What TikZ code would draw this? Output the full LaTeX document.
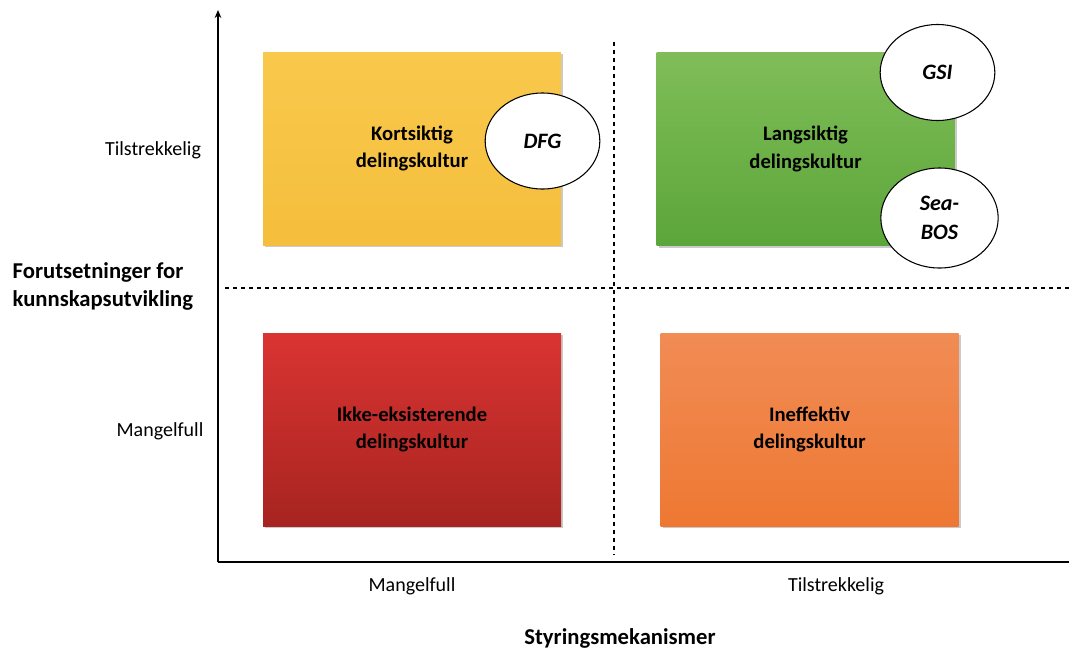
\documentclass[tikz,border=0pt]{standalone}
\usepackage{fontspec}
\setmainfont{Carlito}
\usetikzlibrary{arrows.meta,shapes.geometric,shadows}
\definecolor{ylwT}{HTML}{F9C94C}
\definecolor{ylwB}{HTML}{F5BE3C}
\definecolor{grnT}{HTML}{80BD58}
\definecolor{grnB}{HTML}{5BA63A}
\definecolor{redT}{HTML}{DA3432}
\definecolor{redB}{HTML}{A72420}
\definecolor{orgT}{HTML}{F18C55}
\definecolor{orgB}{HTML}{EE7832}
\tikzset{
  quad/.style={rectangle, minimum width=223.5pt, minimum height=144.75pt, inner sep=0pt,
    align=center, font=\fontsize{15.5}{20.5}\selectfont\bfseries,
    drop shadow={shadow xshift=1.5pt, shadow yshift=-1.5pt, opacity=0.35, fill=black!60}},
  bubble/.style={ellipse, draw=black, line width=0.8pt, fill=white, minimum width=86pt,
    minimum height=72pt, inner sep=0pt, align=center,
    font=\fontsize{16.5}{22}\selectfont\bfseries\itshape},
  axislabel/.style={font=\fontsize{15}{18}\selectfont},
  axistitle/.style={font=\fontsize{17}{21}\selectfont\bfseries},
  axisline/.style={line width=1.4pt, black},
  divider/.style={line width=1.1pt, black, dash pattern=on 3pt off 3pt}
}
\begin{document}
\begin{tikzpicture}[x=0.75pt, y=-0.75pt]
\useasboundingbox (0,0) rectangle (1069,650);
% axes
\coordinate (origin) at (218,562);
\coordinate (ytop) at (218,10);
\coordinate (xend) at (1069,562);
\draw[axisline, -{Stealth[length=6pt,width=5pt]}] (origin) -- (ytop);
\draw[axisline] (origin) -- (xend);
% dividers
\coordinate (hl) at (225,288);
\coordinate (hr) at (1069,288);
\coordinate (vt) at (614,42);
\coordinate (vb) at (614,555);
\draw[divider] (hl) -- (hr);
\draw[divider] (vt) -- (vb);
% quadrants
\node[quad, top color=ylwT, bottom color=ylwB] (kort) at (412,148.5) {Kortsiktig\\delingskultur};
\node[quad, top color=grnT, bottom color=grnB] (lang) at (805.5,149) {Langsiktig\\delingskultur};
\node[quad, top color=redT, bottom color=redB] (ikke) at (412,429.5) {Ikke-eksisterende\\delingskultur};
\node[quad, top color=orgT, bottom color=orgB] (ineff) at (809.5,429.5) {Ineffektiv\\delingskultur};
% bubbles
\node[bubble] (dfg) at (542.5,141) {DFG};
\node[bubble] (gsi) at (937.5,72.5) {GSI};
\node[bubble, minimum width=88pt, minimum height=75pt] (seabos) at (939.5,218) {Sea-\\BOS};
% axis labels
\node[axislabel] (ytil) at (153,150) {Tilstrekkelig};
\node[axislabel] (yman) at (160,431) {Mangelfull};
\node[axislabel] (xman) at (412,586) {Mangelfull};
\node[axislabel] (xtil) at (836,586) {Tilstrekkelig};
\node[axistitle, align=left, anchor=west] (ytitle) at (8,286) {Forutsetninger for\\kunnskapsutvikling};
\node[axistitle] (xtitle) at (620,638) {Styringsmekanismer};
\end{tikzpicture}
\end{document}
